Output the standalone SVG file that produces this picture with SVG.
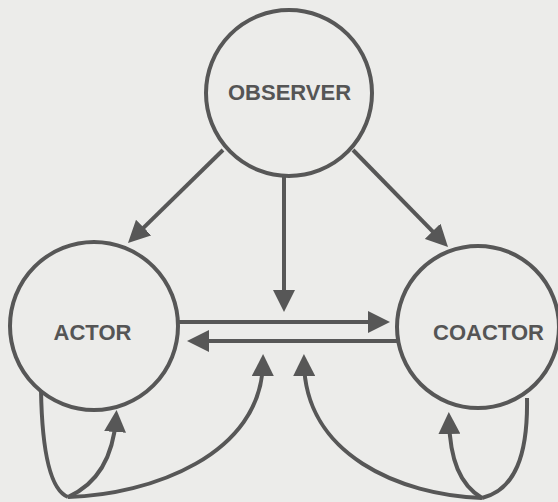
<svg xmlns="http://www.w3.org/2000/svg" width="558" height="502" viewBox="0 0 558 502">
<defs>
<marker id="ah" markerUnits="userSpaceOnUse" markerWidth="22" markerHeight="22" refX="14" refY="11" orient="auto" viewBox="0 0 22 22">
<path d="M0,0 L22,11 L0,22 z" fill="#575757"/>
</marker>
<style>
.node{fill:none;stroke:#575757;stroke-width:4}
.lbl{font-family:"Liberation Sans",Arial,sans-serif;font-weight:bold;font-size:22px;fill:#555;text-anchor:middle}
.edge{fill:none;stroke:#575757;stroke-width:4;marker-end:url(#ah)}
.plain{fill:none;stroke:#575757;stroke-width:4}
</style>
</defs>
<rect width="558" height="502" fill="#ececea"/>
<g id="observer"><circle class="node" cx="289" cy="93" r="83"/><text class="lbl" x="289.5" y="100">OBSERVER</text></g>
<g id="actor"><circle class="node" cx="94" cy="326" r="84"/><text class="lbl" x="92.5" y="340">ACTOR</text></g>
<g id="coactor"><circle class="node" cx="478" cy="327" r="81"/><text class="lbl" x="488.5" y="340">COACTOR</text></g>
<g id="connectors">
<path class="edge" d="M223,150 L133.7,237.4"/>
<path class="edge" d="M353,150 L442.4,241.3"/>
<path class="edge" d="M284,175 L284,304"/>
<path class="edge" d="M177,322 L382,322"/>
<path class="edge" d="M398,341 L195,341"/>
<path class="plain" d="M41,390 C42,450 50,490 68,497"/>
<path class="edge" d="M68,497 C95,485 113,460 116,418"/>
<path class="edge" d="M68,497 C150,495 262,455 263,362"/>
<path class="plain" d="M527,398 C528,455 515,490 482,498"/>
<path class="edge" d="M482,498 C460,485 450,460 449,420"/>
<path class="edge" d="M482,498 C400,495 305,455 304,362"/>
</g>
</svg>
